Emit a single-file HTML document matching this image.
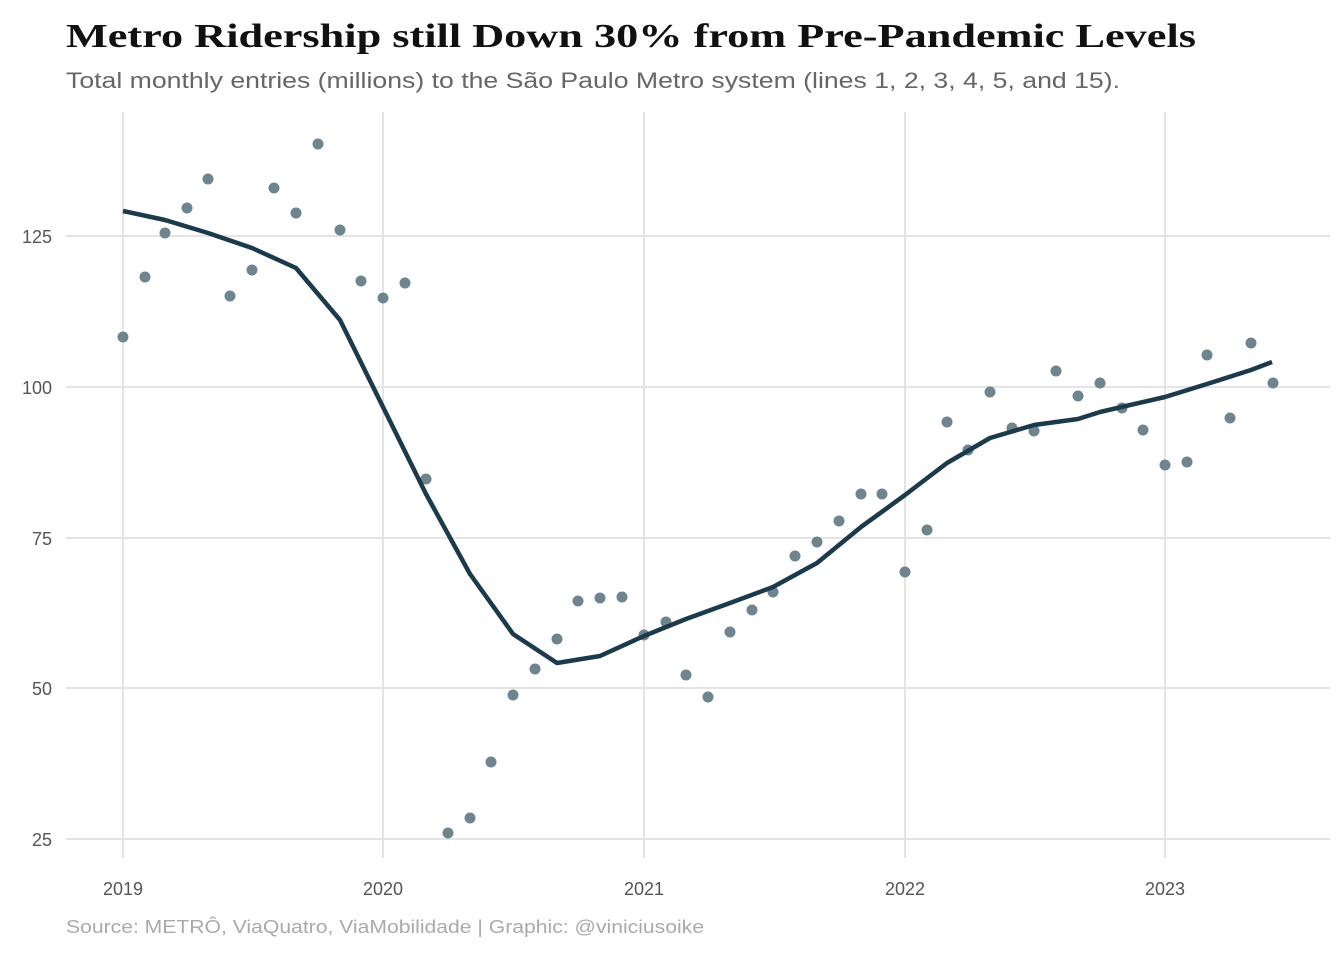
<!DOCTYPE html>
<html><head><meta charset="utf-8"><style>
html,body{margin:0;padding:0;background:#fff;}
svg{display:block}
</style></head><body>
<svg width="1344" height="960" xmlns="http://www.w3.org/2000/svg">
<rect width="1344" height="960" fill="#fff"/>
<text x="66" y="47" font-family="Liberation Serif, serif" font-weight="bold" font-size="34" fill="#111" textLength="1130" lengthAdjust="spacingAndGlyphs">Metro Ridership still Down 30% from Pre-Pandemic Levels</text>
<text x="66" y="88" font-family="Liberation Sans, sans-serif" font-size="22" fill="#666" textLength="1054" lengthAdjust="spacingAndGlyphs">Total monthly entries (millions) to the São Paulo Metro system (lines 1, 2, 3, 4, 5, and 15).</text>
<g stroke="#e4e4e4" stroke-width="2">
<line x1="66" x2="1330" y1="236" y2="236"/><line x1="66" x2="1330" y1="387" y2="387"/>
<line x1="66" x2="1330" y1="538" y2="538"/><line x1="66" x2="1330" y1="688" y2="688"/>
<line x1="66" x2="1330" y1="839" y2="839"/>
<line x1="123" x2="123" y1="112" y2="858"/><line x1="383" x2="383" y1="112" y2="858"/>
<line x1="644" x2="644" y1="112" y2="858"/><line x1="905" x2="905" y1="112" y2="858"/>
<line x1="1165" x2="1165" y1="112" y2="858"/>
</g>
<g font-family="Liberation Sans, sans-serif" font-size="18" fill="#555" text-anchor="end">
<text x="52" y="243">125</text><text x="52" y="394">100</text><text x="52" y="545">75</text><text x="52" y="695">50</text><text x="52" y="846">25</text>
</g>
<g font-family="Liberation Sans, sans-serif" font-size="18" fill="#555" text-anchor="middle">
<text x="123" y="895">2019</text><text x="383" y="895">2020</text><text x="644" y="895">2021</text><text x="905" y="895">2022</text><text x="1165" y="895">2023</text>
</g>
<g fill="#6e858f">
<circle cx="123" cy="337" r="5.5"/><circle cx="145" cy="277" r="5.5"/><circle cx="165" cy="233" r="5.5"/><circle cx="187" cy="208" r="5.5"/><circle cx="208" cy="179" r="5.5"/><circle cx="230" cy="296" r="5.5"/><circle cx="252" cy="270" r="5.5"/><circle cx="274" cy="188" r="5.5"/><circle cx="296" cy="213" r="5.5"/><circle cx="318" cy="144" r="5.5"/><circle cx="340" cy="230" r="5.5"/><circle cx="361" cy="281" r="5.5"/><circle cx="383" cy="298" r="5.5"/><circle cx="405" cy="283" r="5.5"/><circle cx="426" cy="479" r="5.5"/><circle cx="448" cy="833" r="5.5"/><circle cx="470" cy="818" r="5.5"/><circle cx="491" cy="762" r="5.5"/><circle cx="513" cy="695" r="5.5"/><circle cx="535" cy="669" r="5.5"/><circle cx="557" cy="639" r="5.5"/><circle cx="578" cy="601" r="5.5"/><circle cx="600" cy="598" r="5.5"/><circle cx="622" cy="597" r="5.5"/><circle cx="644" cy="635" r="5.5"/><circle cx="666" cy="622" r="5.5"/><circle cx="686" cy="675" r="5.5"/><circle cx="708" cy="697" r="5.5"/><circle cx="730" cy="632" r="5.5"/><circle cx="752" cy="610" r="5.5"/><circle cx="773" cy="592" r="5.5"/><circle cx="795" cy="556" r="5.5"/><circle cx="817" cy="542" r="5.5"/><circle cx="839" cy="521" r="5.5"/><circle cx="861" cy="494" r="5.5"/><circle cx="882" cy="494" r="5.5"/><circle cx="905" cy="572" r="5.5"/><circle cx="927" cy="530" r="5.5"/><circle cx="947" cy="422" r="5.5"/><circle cx="968" cy="450" r="5.5"/><circle cx="990" cy="392" r="5.5"/><circle cx="1012" cy="428" r="5.5"/><circle cx="1034" cy="431" r="5.5"/><circle cx="1056" cy="371" r="5.5"/><circle cx="1078" cy="396" r="5.5"/><circle cx="1100" cy="383" r="5.5"/><circle cx="1122" cy="408" r="5.5"/><circle cx="1143" cy="430" r="5.5"/><circle cx="1165" cy="465" r="5.5"/><circle cx="1187" cy="462" r="5.5"/><circle cx="1207" cy="355" r="5.5"/><circle cx="1230" cy="418" r="5.5"/><circle cx="1251" cy="343" r="5.5"/><circle cx="1273" cy="383" r="5.5"/>
</g>
<polyline fill="none" stroke="#1b3a4b" stroke-width="4.5" stroke-linejoin="round" points="123,211 165,220 208,233 252,248 296,268 340,320 383,407 426,494 470,574 513,634 557,663 600,656 644,636 686,619 730,603 773,587 817,563 839,545 861,527 905,495 947,463 990,438 1034,425 1078,419 1100,412 1165,397 1207,384 1251,370 1272,362"/>
<text x="66" y="933" font-family="Liberation Sans, sans-serif" font-size="18" fill="#aaa" textLength="638" lengthAdjust="spacingAndGlyphs">Source: METRÔ, ViaQuatro, ViaMobilidade | Graphic: @viniciusoike</text>
</svg>
</body></html>
